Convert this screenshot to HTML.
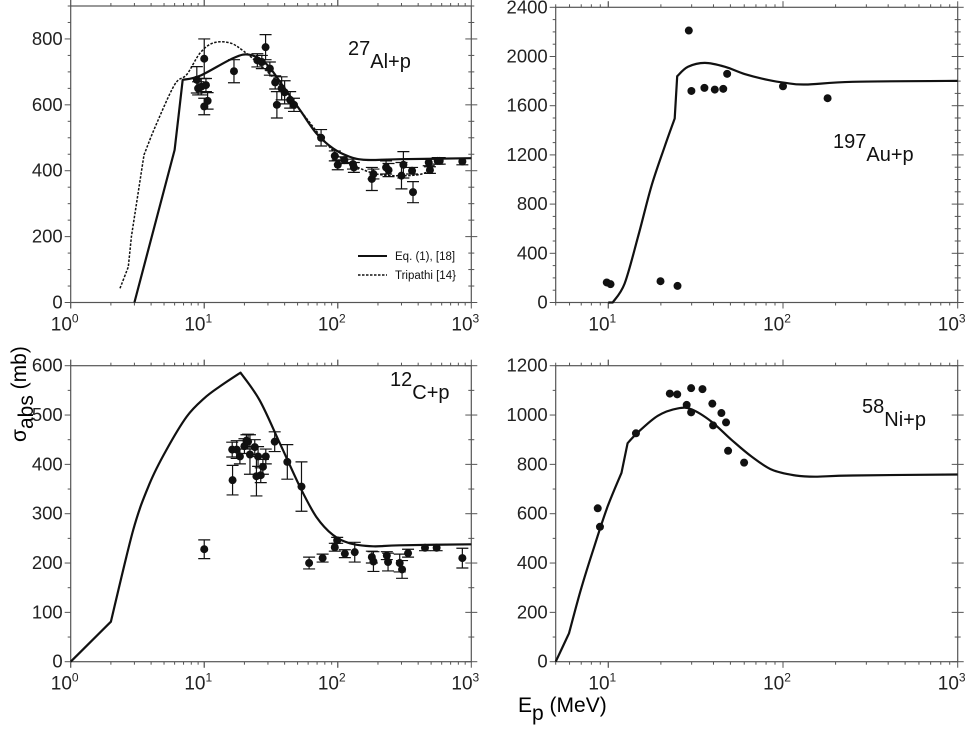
<!DOCTYPE html>
<html><head><meta charset="utf-8"><style>
body{margin:0;background:#fff}
svg{display:block;font-family:"Liberation Sans",Arial,sans-serif}
</style></head><body>
<svg id="c" width="970" height="730" viewBox="0 0 970 730" xmlns="http://www.w3.org/2000/svg">
<text x="26" y="442" font-size="21" transform="rotate(-90 26 442)">σ<tspan dy="7" font-size="21">abs</tspan><tspan dy="-7"> (mb)</tspan></text>
<text x="518" y="712" font-size="21">E<tspan dy="8">p</tspan><tspan dy="-8"> (MeV)</tspan></text>
</svg>
<script>
// ---- Al+p ----
const alCurveE=[3,6,6.9,9.3,16.5,22,29.5,39,52,69,92,122,163,290,1000];
const alCurveS=[0,463,676,688,742,752,722,656,585,514,468,443,433,435,438];
const alCurveBreaks=[1,2];
const alTripE=[2.34,2.7,2.85,3.54,4.3,6,7.4,9.3,11.7,15.6,19.7,26,37,52,73,102,145,217,386,515];
const alTripS=[43,108,200,448,534,661,692,757,788,788,763,722,661,585,509,443,408,387,387,403];
const alTripBreaks=[1,2,3];
const alPtE=[8.8,9.0,9.5,10,10,10.3,10.6,16.7,25,27,28.8,31,34,35,38,40,44,47,75,95,100,112,130,132,180,185,230,240,300,310,366,360,480,490,560,580,857];
const alPtS=[676,650,655,740,595,660,612,702,735,730,775,710,668,600,650,638,615,600,500,445,418,432,420,410,375,390,410,402,385,418,335,400,425,402,430,430,428];
const alPtErr=[40,20,25,60,25,20,25,35,20,20,38,20,20,40,35,35,25,20,25,15,15,10,15,15,35,15,20,20,40,40,32,10,10,10,10,10,10];
// ---- Au+p ----
const auCurveE=[10,10.6,12.4,14.8,17.6,21,24,24.8,28.6,35.7,46.6,60.7,82.7,103,134,250,1000];
const auCurveS=[0,0,154,534,940,1266,1496,1840,1916,1948,1916,1856,1808,1786,1772,1794,1802];
const auCurveBreaks=[1,6,7];
const auPtE=[9.8,10.3,19.9,24.9,28.9,29.9,35.5,40.7,45.5,47.9,100,180];
const auPtS=[163,149,173,135,2211,1720,1745,1731,1737,1859,1758,1661];
// ---- C+p ----
const cCurveE=[1,2,2.94,3.9,5.2,7.4,10,13.1,18.7,26,36.8,52,69,92,123,184,291,1000];
const cCurveS=[0,81,267,361,429,497,534,558,586,530,443,355,294,257,240,234,236,238];
const cCurveBreaks=[1,8];
const cPtE=[10,16.2,16.3,17.5,18.5,20,20.7,21.3,22,23.9,24.6,25.3,26.5,27.5,28.9,33.7,41.9,53.5,61,77,95,99,113,134,180,185,233,238,291,303,336,450,550,857];
const cPtS=[228,430,368,430,416,437,448,446,420,435,376,416,378,395,416,446,405,355,200,210,232,246,219,222,212,203,215,202,200,187,220,231,231,210];
const cPtErr=[19,15,30,18,15,15,12,15,40,15,40,20,15,15,15,20,35,50,12,8,8,6,8,20,12,20,8,18,18,18,8,6,6,20];
// ---- Ni+p ----
const niCurveE=[5,5.96,6.95,8.3,9.9,11.9,12.9,14.8,19.2,25,30,39,50.8,66,86.5,118,153,250,1000];
const niCurveS=[0,115,290,466,628,766,886,930,997,1027,1023,973,899,832,778,755,750,755,759];
const niCurveBreaks=[1,5,6];
const niPtE=[8.7,8.96,14.4,22.5,24.8,28.1,29.8,29.8,34.6,39.4,39.8,44.4,47.2,48.5,59.9];
const niPtS=[622,547,926,1087,1084,1041,1109,1011,1105,1046,958,1008,970,855,807];

const svg=document.getElementById('c');
const NS='http://www.w3.org/2000/svg';
function mk(tag,attrs,parent){const e=document.createElementNS(NS,tag);for(const k in attrs)e.setAttribute(k,attrs[k]);(parent||svg).appendChild(e);return e;}

function smoothPath(pts,breaks){
  const cuts=[0,...breaks,pts.length-1];
  let d='M'+pts[0][0].toFixed(1)+' '+pts[0][1].toFixed(1);
  for(let s=0;s<cuts.length-1;s++){
    const a=cuts[s],b=cuts[s+1];
    for(let i=a;i<b;i++){
      const p0=pts[Math.max(i-1,a)],p1=pts[i],p2=pts[i+1],p3=pts[Math.min(i+2,b)];
      const c1=[p1[0]+(p2[0]-p0[0])/6,p1[1]+(p2[1]-p0[1])/6];
      const c2=[p2[0]-(p3[0]-p1[0])/6,p2[1]-(p3[1]-p1[1])/6];
      d+=` C${c1[0].toFixed(1)} ${c1[1].toFixed(1)} ${c2[0].toFixed(1)} ${c2[1].toFixed(1)} ${p2[0].toFixed(1)} ${p2[1].toFixed(1)}`;
    }
  }
  return d;
}

function panel(name,cfg){
  const g=mk('g',{});
  
  
  const lx0=Math.log10(cfg.xmin),lx1=Math.log10(cfg.xmax);
  const X=e=>cfg.L+(Math.log10(e)-lx0)/(lx1-lx0)*(cfg.R-cfg.L);
  const Y=s=>cfg.B-s/cfg.ymax*(cfg.B-cfg.T);
  const ax='#555';
  const fr=mk('rect',{x:cfg.L,y:cfg.T,width:cfg.R-cfg.L,height:cfg.B-cfg.T,fill:'none',stroke:ax,'stroke-width':1.2},g);
  
  
  for(let d=Math.floor(lx0);d<lx1;d++){
    for(let m=1;m<10;m++){
      const v=m*Math.pow(10,d); if(v<cfg.xmin-1e-9||v>cfg.xmax+1e-9)continue;
      const x=X(v),len=m===1?6:3;
      mk('line',{x1:x,x2:x,y1:cfg.B,y2:cfg.B+len,stroke:ax,'stroke-width':1},g);
      mk('line',{x1:x,x2:x,y1:cfg.T,y2:cfg.T-len,stroke:ax,'stroke-width':1},g);
    }
  }
  for(let d=Math.ceil(lx0);d<=lx1;d++){
    const x=X(Math.pow(10,d));
    mk('line',{x1:x,x2:x,y1:cfg.B,y2:cfg.B+6,stroke:ax},g);
    mk('line',{x1:x,x2:x,y1:cfg.T,y2:cfg.T-6,stroke:ax},g);
    const t=mk('text',{x:x-6,y:cfg.B+28,'font-size':19,'text-anchor':'middle',fill:'#222'},g);
    
    
    t.textContent='10';
    const s=mk('tspan',{dy:-8,'font-size':12},t); s.textContent=String(d);
  }
  for(let v=0;v<=cfg.ymax+1e-9;v+=cfg.ymin){
    const y=Y(v),maj=Math.abs(v/cfg.ymaj-Math.round(v/cfg.ymaj))<1e-6,len=maj?6:3;
    mk('line',{x1:cfg.L-len,x2:cfg.L,y1:y,y2:y,stroke:ax},g);
    mk('line',{x1:cfg.R-len,x2:cfg.R+len,y1:y,y2:y,stroke:ax},g);
  }
  for(let v=0;v<=cfg.ymax+1e-9;v+=cfg.ymaj){
    const t=mk('text',{x:cfg.L-8,y:Y(v)+6,'font-size':18.5,'text-anchor':'end',fill:'#222'},g);
    
    
    t.textContent=String(v);
  }
  cfg.curves.forEach(c=>{
    const pts=c.E.map((e,i)=>[X(e),Y(c.S[i])]);
    const p=mk('path',{d:smoothPath(pts,c.br),fill:'none',stroke:'#111','stroke-width':c.dash?1.5:2.2,'stroke-dasharray':c.dash?'2.5 1.5':'none','stroke-linejoin':'round'},g);
    
    
  });
  const P=cfg.pts;
  P.E.forEach((e,i)=>{
    const x=X(e),y=Y(P.S[i]);
    if(P.err){
      const y1=Y(P.S[i]+P.err[i]),y2=Y(P.S[i]-P.err[i]);
      const eb=mk('path',{d:`M${x} ${y1} L${x} ${y2} M${x-6} ${y1} L${x+6} ${y1} M${x-6} ${y2} L${x+6} ${y2}`,stroke:'#111','stroke-width':1.2,fill:'none'},g);
      
      
    }
    const c=mk('circle',{cx:x,cy:y,r:4,fill:'#111'},g);
    
    
  });
  const lb=mk('text',{x:cfg.lab[0],y:cfg.lab[1],'font-size':20,fill:'#111'},g);
  
  
  lb.textContent=cfg.lab[2];
  const ts=mk('tspan',{dy:13},lb); ts.textContent=cfg.lab[3];
  return g;
}

panel('al-panel',{L:70.7,R:471.3,B:302.5,T:6,xmin:1,xmax:1000,ymax:900,ymaj:200,ymin:50,
  curves:[{E:alCurveE,S:alCurveS,br:alCurveBreaks,name:'eq1-curve'},{E:alTripE,S:alTripS,br:alTripBreaks,dash:true,name:'tripathi-curve'}],
  pts:{E:alPtE,S:alPtS,err:alPtErr},lab:[348,55,'27','Al+p']});
panel('au-panel',{L:555.7,R:957.7,B:302.5,T:7.3,xmin:5,xmax:1000,ymax:2400,ymaj:400,ymin:100,
  curves:[{E:auCurveE,S:auCurveS,br:auCurveBreaks,name:'eq1-curve'}],
  pts:{E:auPtE,S:auPtS},lab:[833,148,'197','Au+p']});
panel('c-panel',{L:70.7,R:471.3,B:661.7,T:365.7,xmin:1,xmax:1000,ymax:600,ymaj:100,ymin:50,
  curves:[{E:cCurveE,S:cCurveS,br:cCurveBreaks,name:'eq1-curve'}],
  pts:{E:cPtE,S:cPtS,err:cPtErr},lab:[390,386,'12','C+p']});
panel('ni-panel',{L:555.7,R:957.7,B:661.7,T:365.7,xmin:5,xmax:1000,ymax:1200,ymaj:200,ymin:100,
  curves:[{E:niCurveE,S:niCurveS,br:niCurveBreaks,name:'eq1-curve'}],
  pts:{E:niPtE,S:niPtS},lab:[862,413,'58','Ni+p']});

const lg=mk('g',{});


mk('line',{x1:358,x2:387,y1:256,y2:256,stroke:'#111','stroke-width':2},lg);
mk('line',{x1:358,x2:387,y1:275,y2:275,stroke:'#111','stroke-width':1.5,'stroke-dasharray':'2.5 1.5'},lg);
const l1=mk('text',{x:395,y:260,'font-size':11.5,fill:'#111'},lg);


l1.textContent='Eq. (1), [18]';
const l2=mk('text',{x:395,y:279,'font-size':11.5,fill:'#111'},lg);


l2.textContent='Tripathi [14}';
</script>
</body></html>
